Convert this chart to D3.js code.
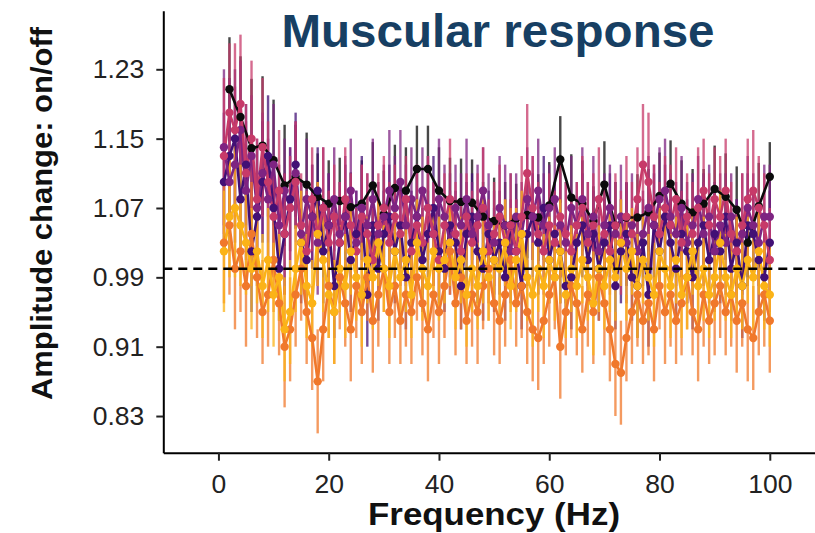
<!DOCTYPE html>
<html>
<head>
<meta charset="utf-8">
<script src="https://cdn.jsdelivr.net/npm/d3@7"></script>
<style>
  body { margin: 0; background: #fff; }
  svg { display: block; font-family: "Liberation Sans", Arial, sans-serif; }
</style>
</head>
<body>
<div id="chart"></div>
<script>
// frequencies (Hz)
var freqEven = d3.range(2, 101, 2);   // black series
var freqAll = d3.range(1, 101);       // coloured series

var yTicks = [0.83, 0.91, 0.99, 1.07, 1.15, 1.23];
var xTicks = [0, 20, 40, 60, 80, 100];

var valBlack = [1.207,1.175,1.139,1.142,1.125,1.096,1.106,1.097,1.083,1.075,
  1.078,1.071,1.075,1.096,1.063,1.093,1.090,1.115,1.115,1.090,
  1.078,1.077,1.076,1.060,1.055,1.050,1.058,1.062,1.059,1.073,
  1.126,1.082,1.075,1.055,1.097,1.050,1.059,1.059,1.065,1.084,
  1.098,1.075,1.065,1.075,1.092,1.083,1.068,1.030,1.072,1.106];
var errBlack = [.06,.07,.08,.08,.07,.07,.06,.06,.05,.05,
  .05,.04,.05,.05,.05,.05,.05,.05,.05,.05,
  .05,.05,.05,.04,.05,.05,.04,.05,.05,.05,
  .05,.05,.05,.04,.05,.05,.04,.05,.05,.05,
  .05,.05,.05,.04,.05,.05,.05,.05,.05,.04];

var valIndigo = [1.10,1.13,1.15,1.08,1.12,1.02,1.06,1.10,1.13,1.07,
  1.00,1.04,1.08,1.12,1.03,1.01,1.06,1.09,1.02,1.05,
  0.98,1.03,1.06,1.01,1.04,1.07,0.97,1.05,1.00,1.04,
  1.06,1.02,1.05,0.99,1.03,1.06,1.01,1.04,1.07,1.02,
  1.00,1.05,1.03,0.98,1.04,1.06,1.02,1.00,1.04,1.01,
  1.03,0.99,1.05,1.02,0.98,1.04,1.06,1.03,1.07,1.01,
  1.04,1.02,0.98,0.99,1.03,1.05,1.01,1.04,1.00,1.03,
  1.05,0.98,1.02,1.04,0.99,0.98,1.03,0.97,1.05,1.02,
  1.06,1.03,1.00,1.04,1.02,0.99,1.03,1.05,1.01,1.04,
  1.02,1.06,1.00,1.03,0.98,1.05,1.04,1.01,0.99,1.03];
var errIndigo = [.08,.09,.08,.08,.07,.07,.08,.07,.07,.06,
  .06,.07,.06,.06,.07,.06,.06,.05,.06,.06,
  .06,.05,.06,.06,.05,.06,.06,.05,.06,.05,
  .06,.06,.05,.06,.06,.05,.06,.05,.06,.06,
  .05,.06,.06,.05,.06,.05,.06,.06,.05,.06,
  .06,.05,.06,.06,.05,.06,.05,.06,.06,.05,
  .06,.06,.05,.06,.05,.06,.06,.05,.06,.05,
  .06,.05,.06,.06,.05,.06,.05,.06,.06,.05,
  .06,.05,.06,.05,.06,.06,.05,.06,.05,.06,
  .06,.05,.06,.05,.06,.06,.05,.06,.05,.06];

var valPurple = [1.14,1.10,1.12,1.16,1.09,1.13,1.07,1.11,1.08,1.12,
  1.05,1.09,1.07,1.11,1.04,1.08,1.06,1.03,1.07,1.05,
  1.08,1.04,1.06,1.09,1.03,1.07,1.05,1.08,1.04,1.06,
  1.09,1.07,1.10,1.05,1.08,1.06,1.09,1.07,1.04,1.08,
  1.06,1.03,1.07,1.05,1.08,1.04,1.06,1.09,1.05,1.03,
  1.07,1.05,1.02,1.06,1.04,1.08,1.06,1.09,1.05,1.07,
  1.08,1.05,1.03,1.07,1.05,1.08,1.04,1.06,1.02,1.05,
  1.07,1.04,1.06,1.03,1.05,1.02,1.04,1.07,1.05,1.08,
  1.09,1.06,1.04,1.07,1.03,1.05,1.08,1.04,1.06,1.02,
  1.05,1.03,1.06,1.02,1.04,1.07,1.05,1.03,1.06,1.06];
var errPurple = [.09,.08,.09,.08,.08,.07,.08,.07,.07,.07,
  .07,.06,.07,.06,.06,.07,.06,.06,.07,.06,
  .06,.06,.07,.06,.06,.05,.06,.07,.06,.06,
  .07,.06,.06,.07,.06,.06,.05,.06,.06,.07,
  .06,.06,.05,.06,.07,.06,.06,.05,.06,.06,
  .06,.07,.06,.05,.06,.06,.07,.06,.06,.05,
  .06,.06,.07,.06,.05,.06,.06,.07,.06,.06,
  .05,.06,.06,.07,.06,.06,.05,.06,.07,.06,
  .06,.05,.06,.06,.07,.06,.05,.06,.06,.07,
  .06,.06,.05,.06,.07,.06,.06,.05,.06,.06];

var valCrimson = [1.13,1.18,1.16,1.19,1.11,1.15,1.08,1.14,1.10,1.06,
  1.09,1.04,1.07,1.10,1.05,1.02,1.08,1.04,1.07,1.03,
  1.06,1.03,1.08,1.05,1.02,1.06,1.04,1.01,1.05,1.07,
  1.03,1.06,1.04,1.08,1.02,1.05,1.03,1.07,1.04,1.01,
  1.05,1.08,1.04,1.02,1.06,1.03,1.05,1.07,1.02,1.04,
  1.06,1.03,1.05,1.02,1.06,1.11,1.07,1.04,1.02,1.05,
  1.03,1.06,1.04,1.02,1.05,1.07,1.03,1.05,1.08,1.04,
  1.02,1.05,1.03,1.06,1.04,1.08,1.12,1.10,1.06,1.04,
  1.07,1.05,1.08,1.03,1.06,1.04,1.07,1.09,1.05,1.08,
  1.06,1.09,1.04,1.02,1.05,1.08,1.09,1.07,1.05,1.01];
var errCrimson = [.09,.08,.10,.08,.08,.09,.07,.08,.07,.07,
  .07,.07,.06,.07,.06,.07,.06,.06,.07,.06,
  .06,.07,.06,.06,.05,.06,.07,.06,.06,.06,
  .07,.06,.06,.05,.06,.07,.06,.06,.06,.05,
  .06,.07,.06,.06,.05,.06,.06,.07,.06,.06,
  .06,.05,.06,.06,.07,.08,.06,.06,.05,.06,
  .06,.07,.06,.06,.05,.06,.07,.06,.06,.06,
  .05,.06,.06,.07,.06,.06,.07,.08,.06,.06,
  .06,.07,.06,.06,.05,.06,.07,.06,.06,.06,
  .07,.06,.06,.05,.06,.07,.07,.06,.06,.06];

var valOrange = [1.03,1.05,1.00,1.02,0.98,1.04,0.99,0.95,0.97,1.01,
  0.96,0.91,0.93,0.97,1.00,0.95,0.92,0.87,0.93,0.98,
  0.95,0.99,0.96,0.93,0.98,0.95,0.99,0.94,0.97,1.00,
  0.95,0.98,0.94,0.97,0.95,0.99,0.96,0.93,0.97,0.95,
  0.98,1.02,0.96,0.99,0.94,0.97,0.95,0.98,1.00,0.96,
  0.94,0.97,1.01,0.96,0.98,0.95,0.93,0.92,0.94,0.97,
  0.99,0.91,0.95,0.98,0.96,0.93,0.97,0.95,0.99,0.96,
  0.93,0.89,0.88,0.92,0.95,0.97,0.94,0.96,0.93,0.98,
  0.95,0.97,0.94,0.96,0.99,0.95,0.93,0.97,0.94,0.96,
  0.98,0.95,0.97,0.94,0.96,0.93,0.92,0.95,0.97,0.94];
var errOrange = [.07,.08,.07,.07,.07,.06,.07,.06,.06,.06,
  .06,.07,.06,.06,.06,.06,.06,.06,.06,.06,
  .06,.06,.05,.06,.06,.06,.05,.06,.06,.05,
  .06,.06,.05,.06,.06,.05,.06,.06,.05,.06,
  .06,.05,.06,.06,.05,.06,.06,.05,.06,.06,
  .05,.06,.06,.05,.06,.06,.06,.06,.05,.06,
  .06,.06,.05,.06,.06,.05,.06,.06,.05,.06,
  .06,.06,.06,.05,.06,.06,.05,.06,.06,.05,
  .06,.06,.05,.06,.06,.05,.06,.06,.05,.06,
  .06,.05,.06,.06,.05,.06,.06,.05,.06,.06];

var valYellow = [1.02,1.06,1.07,1.05,1.03,1.00,1.02,0.98,1.01,0.97,
  0.99,0.93,0.95,1.00,1.03,0.98,0.96,1.04,1.01,0.97,
  0.95,1.00,0.98,1.02,0.99,0.97,1.01,0.99,1.03,1.00,
  0.98,1.02,0.99,1.01,0.97,1.03,1.00,0.98,1.02,1.00,
  1.01,1.03,0.99,1.01,0.97,1.00,0.98,1.02,0.99,1.01,
  1.00,1.03,0.98,1.01,1.04,0.99,0.97,1.00,0.98,1.01,
  0.99,1.02,0.97,1.00,0.98,1.01,0.99,0.96,1.00,0.98,
  1.01,0.99,1.03,1.00,1.02,0.98,1.01,0.99,0.97,1.02,
  1.00,0.98,1.01,0.97,0.99,1.02,0.98,1.00,0.97,0.99,
  1.03,0.99,0.97,1.00,0.98,1.01,0.99,1.02,0.98,0.97];
var errYellow = [.07,.07,.08,.07,.06,.07,.06,.06,.06,.06,
  .05,.06,.06,.05,.06,.06,.05,.06,.06,.05,
  .06,.05,.06,.05,.05,.06,.05,.06,.05,.05,
  .06,.05,.05,.06,.05,.05,.06,.05,.05,.06,
  .05,.05,.06,.05,.06,.05,.05,.06,.05,.05,
  .06,.05,.05,.06,.05,.05,.06,.05,.06,.05,
  .05,.06,.05,.05,.06,.05,.05,.06,.05,.05,
  .06,.05,.05,.06,.05,.06,.05,.05,.06,.05,
  .05,.06,.05,.05,.06,.05,.05,.06,.05,.05,
  .06,.05,.05,.06,.05,.05,.06,.05,.05,.06];

var colors = ["#0b0b0b", "#421075", "#7e2482", "#c73a69", "#f0782b", "#fbb317"];

var series = [
  {freq: freqEven, val: valBlack,   err: errBlack},
  {freq: freqAll,  val: valIndigo,  err: errIndigo},
  {freq: freqAll,  val: valPurple,  err: errPurple},
  {freq: freqAll,  val: valCrimson, err: errCrimson},
  {freq: freqAll,  val: valOrange,  err: errOrange},
  {freq: freqAll,  val: valYellow,  err: errYellow}
].map(function(s, i) {
  return {
    color: colors[i],
    points: s.freq.map(function(f, j) { return {f: f, v: s.val[j], e: s.err[j]}; })
  };
});

var width = 815, height = 533;
var svg = d3.select("#chart").append("svg")
    .attr("width", width)
    .attr("height", height);

var x = d3.scaleLinear().domain([-10, 108.2]).range([163.3, 815]);
var y = d3.scaleLinear().domain([0.7877, 1.2976]).range([452.7, 10.7]);

// error bars
svg.append("g").selectAll("g")
    .data(series).enter().append("g")
    .attr("stroke", function(d) { return d.color; })
    .attr("stroke-opacity", 0.75)
    .attr("stroke-width", 2.4)
  .selectAll("line")
    .data(function(d) { return d.points; }).enter().append("line")
    .attr("x1", function(d) { return x(d.f); })
    .attr("x2", function(d) { return x(d.f); })
    .attr("y1", function(d) { return y(d.v - d.e); })
    .attr("y2", function(d) { return y(d.v + d.e); });

// lines
var line = d3.line()
    .x(function(d) { return x(d.f); })
    .y(function(d) { return y(d.v); });

svg.append("g").selectAll("path")
    .data(series).enter().append("path")
    .attr("fill", "none")
    .attr("stroke", function(d) { return d.color; })
    .attr("stroke-width", 2.6)
    .attr("d", function(d) { return line(d.points); });

// points
svg.append("g").selectAll("g")
    .data(series).enter().append("g")
    .attr("fill", function(d) { return d.color; })
  .selectAll("circle")
    .data(function(d) { return d.points; }).enter().append("circle")
    .attr("cx", function(d) { return x(d.f); })
    .attr("cy", function(d) { return y(d.v); })
    .attr("r", 4.2);

// reference line at 1
svg.append("line")
    .attr("x1", 163.3).attr("x2", 815)
    .attr("y1", y(1)).attr("y2", y(1))
    .attr("stroke", "#000")
    .attr("stroke-width", 2.5)
    .attr("stroke-dasharray", "9,6");

// axes
var xAxis = svg.append("g")
    .attr("transform", "translate(0," + 452.7 + ")")
    .call(d3.axisBottom(x).tickValues(xTicks).tickSize(8).tickSizeOuter(0).tickPadding(13));
var yAxis = svg.append("g")
    .attr("transform", "translate(" + 163.3 + ",0)")
    .call(d3.axisLeft(y).tickValues(yTicks).tickSize(7).tickSizeOuter(0).tickPadding(12)
      .tickFormat(d3.format(".2f")));

[xAxis, yAxis].forEach(function(g) {
  g.select(".domain").attr("stroke", "#000").attr("stroke-width", 2);
  g.selectAll(".tick line").attr("stroke", "#222").attr("stroke-width", 2);
  g.selectAll(".tick text")
      .attr("fill", "#222")
      .style("font-size", "26.5px")
      .style("font-family", "'Liberation Sans', Arial, sans-serif");
});

// titles
svg.append("text")
    .attr("x", 498).attr("y", 46.7)
    .attr("text-anchor", "middle")
    .attr("fill", "#173f63")
    .attr("font-weight", "bold")
    .attr("font-size", 46)
    .attr("textLength", 433)
    .attr("lengthAdjust", "spacingAndGlyphs")
    .text("Muscular response");

svg.append("text")
    .attr("x", 494).attr("y", 525)
    .attr("text-anchor", "middle")
    .attr("fill", "#111")
    .attr("font-weight", "bold")
    .attr("font-size", 31)
    .attr("textLength", 252)
    .attr("lengthAdjust", "spacingAndGlyphs")
    .text("Frequency (Hz)");

svg.append("text")
    .attr("transform", "translate(52,213.5) rotate(-90)")
    .attr("text-anchor", "middle")
    .attr("fill", "#111")
    .attr("font-weight", "bold")
    .attr("font-size", 29)
    .attr("textLength", 373)
    .attr("lengthAdjust", "spacingAndGlyphs")
    .text("Amplitude change: on/off");
</script>
</body>
</html>
